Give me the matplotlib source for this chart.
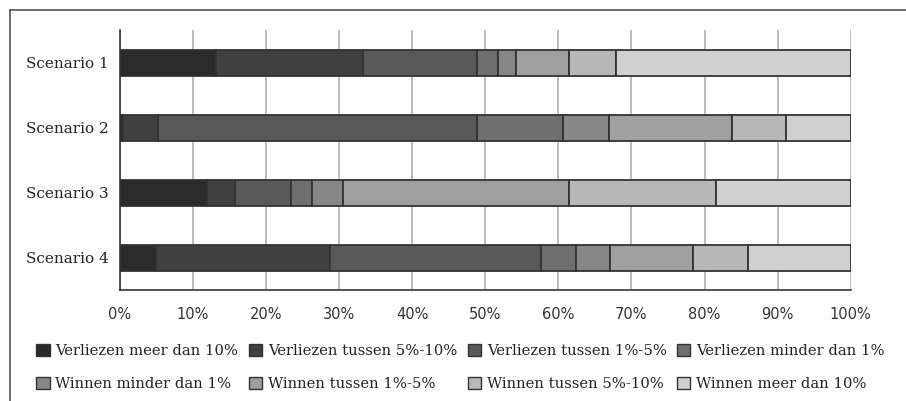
import matplotlib
matplotlib.use("Agg")
import matplotlib.pyplot as plt
from matplotlib.patches import Patch
from matplotlib.lines import Line2D

scenarios = ["Scenario 1", "Scenario 2", "Scenario 3", "Scenario 4"]
categories = ["Verliezen meer dan 10%", "Verliezen tussen 5%-10%",
              "Verliezen tussen 1%-5%", "Verliezen minder dan 1%",
              "Winnen minder dan 1%", "Winnen tussen 1%-5%",
              "Winnen tussen 5%-10%", "Winnen meer dan 10%"]
# percentage per category, one list per scenario
s1 = [13.2, 20.0, 15.7, 2.8, 2.5, 7.3, 6.4, 32.1]
s2 = [0.4, 4.8, 43.6, 11.8, 6.3, 16.8, 7.5, 8.8]
s3 = [11.9, 3.8, 7.7, 2.9, 4.2, 31.0, 20.0, 18.5]
s4 = [4.9, 23.9, 28.8, 4.8, 4.7, 11.3, 7.6, 14.0]
colors = ["#2b2b2b", "#404040", "#595959", "#6f6f6f",
          "#878787", "#a0a0a0", "#b8b8b8", "#d0d0d0"]

serif = "DejaVu Serif"
data = [s1, s2, s3, s4]

fig = plt.figure(figsize=(9.06, 4.01), dpi=100)
ax = fig.add_axes([120 / 906, 1 - 290 / 401, 730.7 / 906, 260 / 401])

for i, vals in enumerate(data):
    left = 0
    for j, v in enumerate(vals):
        ax.barh(i, v, left=left, height=0.4, color=colors[j],
                edgecolor="#333333", linewidth=1.3, zorder=3)
        left += v

ax.set_xlim(0, 100)
ax.set_ylim(3.5, -0.5)
ax.set_yticks(range(4))
ax.set_yticklabels(scenarios, fontfamily=serif, fontsize=11, color="#222222")
ax.set_xticks(range(0, 101, 10))
ax.set_xticklabels([f"{t}%" for t in range(0, 101, 10)],
                   fontfamily="DejaVu Sans", fontsize=10.5, color="#333333")
ax.tick_params(length=0, pad=8)
ax.tick_params(axis="x", pad=12)
ax.grid(axis="x", color="#b0b0b0", linewidth=1.2, zorder=0)
for s in ["top", "right"]:
    ax.spines[s].set_visible(False)
for s in ["left", "bottom"]:
    ax.spines[s].set_color("#333333")
    ax.spines[s].set_linewidth(1.2)

# legend fills row by row in the reference
order = [0, 4, 1, 5, 2, 6, 3, 7]
handles = [Patch(facecolor=colors[k], edgecolor="#333333", linewidth=1) for k in order]
labels = [categories[k] for k in order]
fig.legend(handles, labels, ncol=4, loc="upper left",
           bbox_to_anchor=(23 / 906, 1 - 331 / 401), frameon=False,
           prop={"family": serif, "size": 10.6},
           handlelength=0.9, handleheight=0.9, handletextpad=0.4,
           columnspacing=0.7, labelspacing=1.25, labelcolor="#222222")

# outer frame lines
fig.add_artist(Line2D([10 / 906, 1], [1 - 10 / 401] * 2, color="#555555",
                      linewidth=1.2, transform=fig.transFigure))
fig.add_artist(Line2D([10 / 906] * 2, [0, 1 - 10 / 401], color="#555555",
                      linewidth=1.2, transform=fig.transFigure))

fig.savefig("out.png", dpi=100)
